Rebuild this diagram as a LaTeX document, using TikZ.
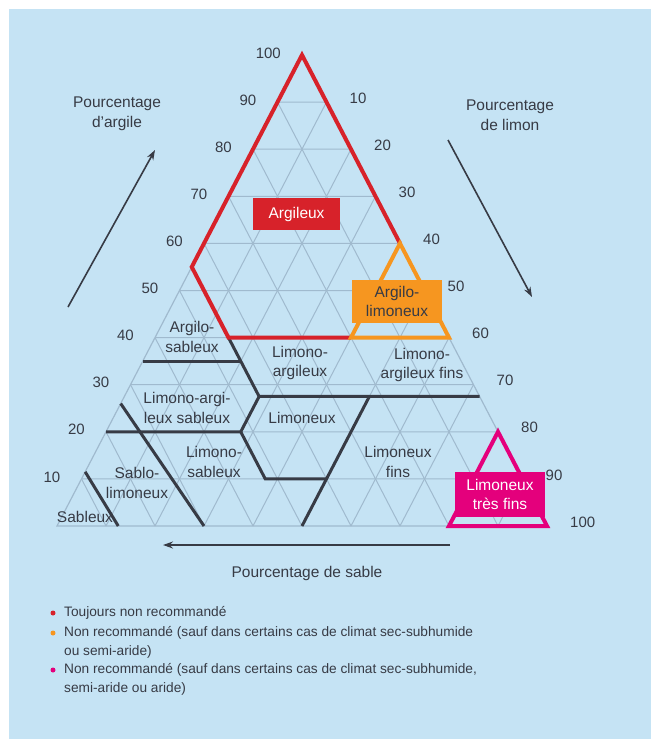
\documentclass[tikz,border=0pt]{standalone}
\usepackage{fontspec}
\setmainfont{Liberation Sans}
\usetikzlibrary{calc,arrows.meta}
\tikzset {>=Stealth}

\definecolor{fond}{RGB}{197,227,244}
\definecolor{grille}{RGB}{160,186,206}
\definecolor{trait}{RGB}{55,59,69}
\definecolor{colRouge}{RGB}{215,34,42}
\definecolor{colOrange}{RGB}{246,150,32}
\definecolor{colMagenta}{RGB}{228,0,124}

\tikzset{
  classe/.style={text=trait, align=center, inner sep=0pt,
    font=\fontsize{15.5}{19.5}\selectfont},
  valeur/.style={text=trait, inner sep=0pt, font=\fontsize{15}{18}\selectfont},
  limite/.style={draw=trait, line width=3pt},
  zone/.style={line width=4pt, line join=miter},
  etiquette/.style={align=center, inner sep=0pt,
    font=\fontsize{15.5}{19.5}\selectfont},
  legende/.style={text=trait, align=left, anchor=west, inner sep=0pt,
    font=\fontsize{13.7}{19}\selectfont},
  fleche/.style={->, draw=trait, line width=1.6pt, >={Stealth[length=10pt,width=7pt]}}
}

\begin{document}
\begin{tikzpicture}[x=1pt,y=-1pt]
\useasboundingbox (0,0) rectangle (651,739);
\fill[fond] (9,9) rectangle (651,739);

\path
  (302,55) coordinate (A)    % 100 % argile
  (57,526) coordinate (L)    % 100 % sable
  (547,526) coordinate (R);  % 100 % limon

% grille tous les 10 %
\foreach \i in {10,20,...,90}
  \draw[grille, line width=1pt]
    ($(L)!\i/100!(A)$) -- ($(R)!\i/100!(A)$)
    ($(L)!\i/100!(R)$) -- ($(A)!\i/100!(R)$)
    ($(R)!\i/100!(L)$) -- ($(A)!\i/100!(L)$);
\draw[grille, line width=1.2pt] (A) -- (L) -- (R) -- cycle;

% points (argile, limon, sable)
\path
  (barycentric cs:A=.40,R=.40,L=.20) coordinate (c40s40)
  (barycentric cs:A=.40,R=.15,L=.45) coordinate (c40s15)
  (barycentric cs:A=.55,R=0,L=.45) coordinate (c55s0)
  (barycentric cs:A=.60,R=.40,L=0) coordinate (c60s40)
  (barycentric cs:A=.40,R=.60,L=0) coordinate (c40s60)
  (barycentric cs:A=.20,R=.80,L=0) coordinate (c20s80)
  (barycentric cs:A=0,R=.80,L=.20) coordinate (c0s80)
  (barycentric cs:A=.35,R=0,L=.65) coordinate (c35s0)
  (barycentric cs:A=.35,R=.20,L=.45) coordinate (c35s20)
  (barycentric cs:A=.275,R=.275,L=.45) coordinate (c27s27)
  (barycentric cs:A=.275,R=.725,L=0) coordinate (c27s72)
  (barycentric cs:A=.20,R=.275,L=.525) coordinate (c20s27)
  (barycentric cs:A=.20,R=0,L=.80) coordinate (c20s0)
  (barycentric cs:A=.10,R=.375,L=.525) coordinate (c10s37)
  (barycentric cs:A=.10,R=.50,L=.40) coordinate (c10s50)
  (barycentric cs:A=.275,R=.50,L=.225) coordinate (c27s50)
  (barycentric cs:A=0,R=.50,L=.50) coordinate (c0s50)
  (barycentric cs:A=.26,R=0,L=.74) coordinate (c26s0)
  (barycentric cs:A=0,R=.30,L=.70) coordinate (c0s30)
  (barycentric cs:A=.115,R=0,L=.885) coordinate (c11s0)
  (barycentric cs:A=0,R=.125,L=.875) coordinate (c0s12);

% limites des classes
\draw[limite] (c35s0) -- (c35s20);
\draw[limite] (c40s15) -- (c27s27) -- (c27s72);
\draw[limite] (c27s27) -- (c20s27) -- (c20s0);
\draw[limite] (c20s27) -- (c10s37) -- (c10s50);
\draw[limite] (c27s50) -- (c0s50);
\draw[limite] (c26s0) -- (c0s30);
\draw[limite] (c11s0) -- (c0s12);

% zones non recommandees
\draw[zone, colRouge] (c40s40) -- (c40s15) -- (c55s0) -- (A) -- (c60s40);
\draw[zone, colOrange] (c60s40) -- (c40s40) -- (c40s60) -- cycle;
\draw[zone, colMagenta] (c20s80) -- (c0s80) -- (R) -- cycle;

\node[etiquette, fill=colRouge, text=white, minimum width=87pt, minimum height=32pt]
  (argileux) at (296.5,214) {Argileux};
\node[etiquette, fill=colOrange, text=trait, minimum width=90pt, minimum height=43pt]
  (argilolim) at (397,301.5) {Argilo-\\limoneux};
\node[etiquette, fill=colMagenta, text=white, minimum width=90pt, minimum height=45pt]
  (limtresfins) at (500,494.5) {Limoneux\\très fins};

\node[classe] (argilosab) at (192,337) {Argilo-\\sableux};
\node[classe] (limarg) at (300,363) {Limono-\\argileux};
\node[classe] (limargfins) at (422,365) {Limono-\\argileux fins};
\node[classe] (limargsab) at (187,408) {Limono-argi-\\leux sableux};
\node[classe] (limoneux) at (302,418) {Limoneux};
\node[classe] (limsab) at (214,462) {Limono-\\sableux};
\node[classe] (limfins) at (398,462) {Limoneux\\fins};
\node[classe] (sablolim) at (137,483) {Sablo-\\limoneux};
\node[classe] (sableux) at (85,517) {Sableux};

% graduations
\foreach \v in {10,20,...,100}
  \node[valeur, anchor=east, xshift=-21pt, yshift=2pt] (arg\v) at ($(L)!\v/100!(A)$) {\v};
\foreach \v in {10,20,...,100}
  \node[valeur, anchor=west, xshift=23pt, yshift=4pt] (lim\v) at ($(A)!\v/100!(R)$) {\v};

% axes
\path
  (68,307) coordinate (argD)
  (155,150) coordinate (argF)
  (448,140) coordinate (limD)
  (532,297) coordinate (limF)
  (450,545) coordinate (sabD)
  (163,545) coordinate (sabF);
\draw[fleche] (argD) -- (argF);
\draw[fleche] (limD) -- (limF);
\draw[fleche] (sabD) -- (sabF);
\node[etiquette, text=trait] (titrearg) at (117,114) {Pourcentage\\d'argile};
\node[etiquette, text=trait] (titrelim) at (510,115) {Pourcentage\\de limon};
\node[etiquette, text=trait] (titresab) at (307,573) {Pourcentage de sable};

% legende
\foreach \y/\col in {613/colRouge,633/colOrange,670/colMagenta}
  \fill[\col] (53,\y) circle (2.5pt);
\node[legende] (leg1) at (64,613) {Toujours non recommandé};
\node[legende] (leg2) at (64,642.5)
  {Non recommandé (sauf dans certains cas de climat sec-subhumide\\ou semi-aride)};
\node[legende] (leg3) at (64,679.5)
  {Non recommandé (sauf dans certains cas de climat sec-subhumide,\\semi-aride ou aride)};
\end{tikzpicture}
\end{document}
